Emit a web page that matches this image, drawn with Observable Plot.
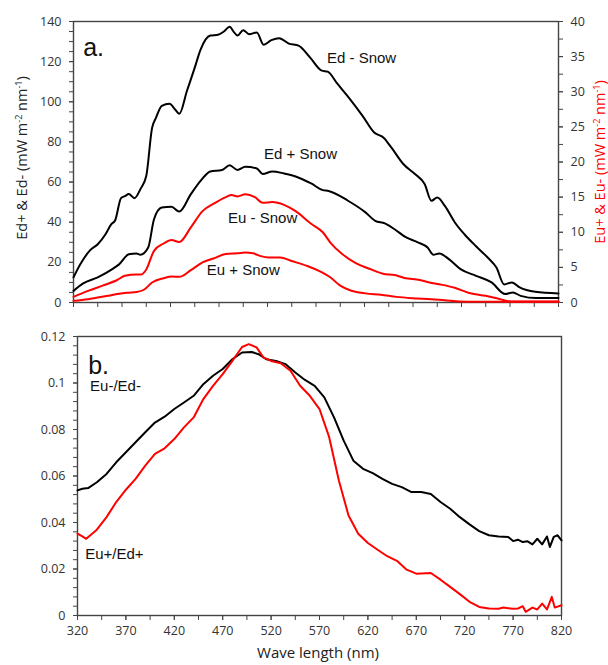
<!DOCTYPE html>
<html>
<head>
<meta charset="utf-8">
<script src="https://cdn.jsdelivr.net/npm/d3@7"></script>
<script src="https://cdn.jsdelivr.net/npm/@observablehq/plot@0.6"></script>
<style>
  html, body { margin: 0; padding: 0; background: #fff; }
  #chart { width: 608px; }
  #chart svg { display: block; }
</style>
</head>
<body>
<div id="chart"></div>
<script>
// ---------- Panel a: irradiance (left axis Ed, right axis Eu) ----------
const edMinusWl = [320,327,337,345,353,359,363,369,373,377,383,389,395,401,405,411,419,425,429,437,445,451,461,469,475,481,485,489,495,501,509,516,524,532,542,552,564,576,582,592,604,618,630,640,648,660,672,682,689,695,703,713,723,735,747,756,764,772,780,796,820];
const edMinus   = [12.5,19,26,29,34,39,41,52,53,54,52,56.5,63,87,92,98,99,96,94,105.5,117,126,133,133.4,135,137.4,135,133,135.7,133.7,134.5,128.4,130.7,131.7,129,128,122,115.5,115,109,102,93,84.7,82,77,69,64,59,50.7,52.3,48,40,34,28,22.4,17.4,9,10,7.5,5.3,4.5];

const edPlusWl = [320,330,345,360,367,377,385,389,397,403,411,421,429,441,451,461,473,481,489,497,509,515,525,537,549,565,577,583,603,621,631,641,651,663,675,685,691,697,707,719,735,751,765,773,781,797,820];
const edPlus   = [5.8,9.5,12.5,16.6,19,24,24.4,23.8,27.4,41.5,47.3,47.7,45.3,54,60.6,65.3,66,68.4,66,67.6,66.8,64,65.3,64.3,62.8,59.3,56,55.6,50.7,44.9,40.7,39.4,36.5,32.4,30,27.4,23.8,24.4,21.6,16.6,13.3,10,4.2,5,3.3,2.2,2.2];

const euMinusWl = [320,335,350,365,373,385,390,395,403,413,421,429,441,453,465,477,483,489,497,507,515,525,537,549,565,577,585,597,611,625,639,651,661,677,687,697,713,727,745,759,771,820];
const euMinus   = [0.8,1.66,2.4,3.2,3.8,4.0,4.0,4.7,7.35,8.4,8.9,8.6,10.7,13.0,14.1,15.0,15.3,15.1,15.4,15.0,14.2,14.3,13.9,13.0,11.2,10.0,8.5,6.9,5.6,4.8,4.1,3.9,3.5,3.2,2.85,2.6,2.1,1.4,0.95,0.5,0.15,0.15];

const euPlusWl = [320,335,355,365,375,385,393,401,413,421,429,441,453,465,477,489,497,505,513,521,533,545,561,573,585,595,605,621,637,653,675,697,717,737,820];
const euPlus   = [0.24,0.47,0.95,1.2,1.4,1.5,1.85,2.85,3.46,3.7,3.65,4.6,5.7,6.3,6.9,7.0,7.1,7.0,6.6,6.4,6.4,5.9,5.2,4.5,3.55,2.4,1.75,1.3,1.1,0.8,0.57,0.38,0.15,0.1,0.1];

// ---------- Panel b: ratios ----------
const ratioMinusWl = [320,325,331,340,350,360,370,380,390,400,410,420,430,440,450,460,470,480,490,500,507,515,525,535,545,555,565,575,585,595,605,615,625,635,645,655,665,675,685,695,705,715,725,735,745,755,765,770,775,780,785,790,795,800,805,808,812,816,820];
const ratioMinus   = [0.0538,0.0545,0.0548,0.0573,0.0609,0.0659,0.0702,0.0745,0.0788,0.0830,0.0855,0.0888,0.0916,0.0945,0.0995,0.1031,0.1060,0.1102,0.1131,0.1133,0.1124,0.1102,0.1095,0.1081,0.1045,0.1013,0.0988,0.0938,0.0852,0.0752,0.0666,0.0631,0.0612,0.0588,0.0566,0.0552,0.0531,0.0531,0.0523,0.0488,0.0459,0.0423,0.0392,0.0363,0.0345,0.0340,0.0338,0.0320,0.0326,0.0316,0.0319,0.0306,0.0330,0.0306,0.0340,0.0295,0.0338,0.0345,0.0323];

const ratioPlusWl = [320,325,329,340,350,360,370,380,390,400,410,420,430,440,450,460,470,480,490,497,505,512,520,530,540,550,560,570,580,590,600,610,620,630,640,650,660,670,685,695,705,715,725,735,745,755,760,770,775,780,783,790,795,800,805,810,813,820];
const ratioPlus   = [0.0352,0.0340,0.0330,0.0369,0.0423,0.0488,0.0541,0.0588,0.0645,0.0695,0.0719,0.0759,0.0809,0.0852,0.0931,0.0988,0.1038,0.1095,0.1155,0.1167,0.1153,0.1110,0.1095,0.1085,0.1053,0.0988,0.0945,0.0888,0.0767,0.0581,0.0430,0.0352,0.0312,0.0283,0.0255,0.0235,0.0197,0.0180,0.0183,0.0154,0.0123,0.0092,0.0059,0.0037,0.0030,0.0029,0.0034,0.0029,0.0030,0.0040,0.0016,0.0034,0.0026,0.0051,0.0026,0.0080,0.0034,0.0044];

// ---------- Ticks ----------
const xMajorTicks = [320,370,420,470,520,570,620,670,720,770,820];
const xMinorTicks = d3.range(320, 821, 25);
const leftMajorTicks = [0,20,40,60,80,100,120,140];
const leftMinorTicks = d3.range(0, 141, 5);
const rightMajorTicks = [0,5,10,15,20,25,30,35,40];
const rightMinorTicks = d3.range(0, 40.01, 2.5);
const ratioMajorTicks = [0,0.02,0.04,0.06,0.08,0.1,0.12];
const ratioMinorTicks = d3.range(0, 30.5, 1).map(i => i * 0.004);

// ---------- Annotations (data coordinates) ----------
const annotA = [
  {wl: 330, v: 127, text: "a.", big: true},
  {wl: 617, v: 121.6, text: "Ed - Snow"},
  {wl: 554, v: 74, text: "Ed + Snow"},
  {wl: 515, v: 41.9, text: "Eu - Snow"},
  {wl: 495, v: 16, text: "Eu + Snow"}
];
const annotB = [
  {wl: 331, v: 0.1075, text: "b.", big: true},
  {wl: 333, v: 0.0985, text: "Eu-/Ed-"},
  {wl: 328, v: 0.0262, text: "Eu+/Ed+"}
];

const RATIO = 140 / 40; // right-axis scale factor
const zip = (xs, ys) => xs.map((x, i) => ({wl: x, v: ys[i]}));
const AXIS = "#444";
const tickFont = {fontFamily: "'Open Sans', sans-serif", fontSize: "12.5px", color: "#333"};

const panelA = Plot.plot({
  width: 608, height: 320,
  marginTop: 21, marginBottom: 18, marginLeft: 73, marginRight: 50,
  x: {domain: [320, 820]},
  y: {domain: [0, 140]},
  style: tickFont,
  marks: [
    Plot.axisX({ticks: xMinorTicks, tickFormat: () => "", tickSize: 5, label: null, stroke: AXIS}),
    Plot.axisY({ticks: leftMinorTicks, tickFormat: () => "", tickSize: 4, label: null, stroke: AXIS}),
    Plot.axisY({ticks: leftMajorTicks, tickSize: 4, tickPadding: 8, label: null, stroke: AXIS}),
    Plot.axisY({anchor: "right", ticks: rightMinorTicks.map(d => d * RATIO), tickFormat: () => "", tickSize: 4, label: null, stroke: AXIS}),
    Plot.axisY({anchor: "right", ticks: rightMajorTicks.map(d => d * RATIO), tickFormat: d => Math.round(d / RATIO), tickSize: 4, tickPadding: 8, label: null, stroke: AXIS}),
    Plot.frame({stroke: AXIS, strokeWidth: 1.4}),
    Plot.line(zip(edMinusWl, edMinus), {x: "wl", y: "v", stroke: "black", strokeWidth: 2, curve: "monotone-x"}),
    Plot.line(zip(edPlusWl, edPlus), {x: "wl", y: "v", stroke: "black", strokeWidth: 2, curve: "monotone-x"}),
    Plot.line(zip(euMinusWl, euMinus), {x: "wl", y: d => d.v * RATIO, stroke: "#ff0000", strokeWidth: 2, curve: "monotone-x"}),
    Plot.line(zip(euPlusWl, euPlus), {x: "wl", y: d => d.v * RATIO, stroke: "#ff0000", strokeWidth: 2, curve: "monotone-x"}),
    Plot.text(annotA.filter(d => !d.big), {x: "wl", y: "v", text: "text", fontSize: 15, fill: "#111", fontFamily: "'Liberation Sans', Arial, sans-serif"}),
    Plot.text(annotA.filter(d => d.big), {x: "wl", y: "v", text: "text", fontSize: 25, fill: "#111", textAnchor: "start", fontFamily: "'Liberation Sans', Arial, sans-serif"})
  ]
});

const panelB = Plot.plot({
  width: 608, height: 345,
  marginTop: 16, marginBottom: 50, marginLeft: 77, marginRight: 47,
  x: {domain: [320, 820]},
  y: {domain: [0, 0.12]},
  style: tickFont,
  marks: [
    Plot.axisX({ticks: xMinorTicks, tickFormat: () => "", tickSize: 5, label: null, stroke: AXIS}),
    Plot.axisX({ticks: xMajorTicks, tickFormat: d => String(d), tickSize: 5, tickPadding: 6, label: null, stroke: AXIS}),
    Plot.axisY({ticks: ratioMinorTicks, tickFormat: () => "", tickSize: 4, label: null, stroke: AXIS}),
    Plot.axisY({ticks: ratioMajorTicks, tickFormat: d => d === 0 ? "0" : String(+d.toFixed(2)), tickSize: 4, tickPadding: 8, label: null, stroke: AXIS}),
    Plot.frame({stroke: AXIS, strokeWidth: 1.4}),
    Plot.line(zip(ratioMinusWl, ratioMinus), {x: "wl", y: "v", stroke: "black", strokeWidth: 2}),
    Plot.line(zip(ratioPlusWl, ratioPlus), {x: "wl", y: "v", stroke: "#ff0000", strokeWidth: 2}),
    Plot.text(annotB.filter(d => !d.big), {x: "wl", y: "v", text: "text", fontSize: 15, fill: "#111", textAnchor: "start", fontFamily: "'Liberation Sans', Arial, sans-serif"}),
    Plot.text(annotB.filter(d => d.big), {x: "wl", y: "v", text: "text", fontSize: 25, fill: "#111", textAnchor: "start", fontFamily: "'Liberation Sans', Arial, sans-serif"})
  ]
});

const chart = document.getElementById("chart");
chart.appendChild(panelA);
chart.appendChild(panelB);

// Axis titles with superscripts
function unitLabel(svg, x, y, prefix, color) {
  const t = d3.select(svg).append("text")
    .attr("transform", `translate(${x},${y}) rotate(-90)`)
    .attr("text-anchor", "middle")
    .attr("fill", color)
    .style("font-family", "'Open Sans', sans-serif")
    .style("font-size", "14.5px");
  t.append("tspan").text(prefix + " (mW m");
  t.append("tspan").attr("dy", -5).style("font-size", "9px").text("-2");
  t.append("tspan").attr("dy", 5).text(" nm");
  t.append("tspan").attr("dy", -5).style("font-size", "9px").text("-1");
  t.append("tspan").attr("dy", 5).text(")");
}
unitLabel(panelA, 27, 158, "Ed+ & Ed-", "#222");
unitLabel(panelA, 605, 162, "Eu+ & Eu-", "#ff0000");

d3.select(panelB).append("text")
  .attr("x", 318).attr("y", 338)
  .attr("text-anchor", "middle")
  .attr("fill", "#222")
  .style("font-family", "'Open Sans', sans-serif")
  .style("font-size", "15px")
  .text("Wave length (nm)");
</script>
</body>
</html>
